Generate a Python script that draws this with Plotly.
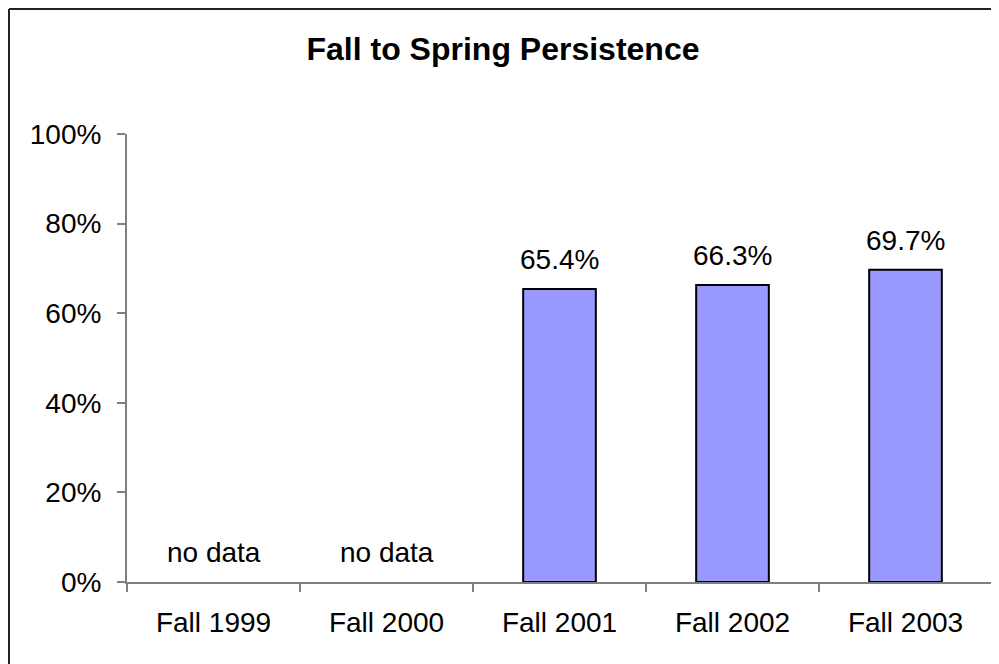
import plotly.graph_objects as go

categories = ["Fall 1999", "Fall 2000", "Fall 2001", "Fall 2002", "Fall 2003"]
persistence = [None, None, 65.4, 66.3, 69.7]
bar_labels = ["no data", "no data", "65.4%", "66.3%", "69.7%"]
y_ticks = [0, 20, 40, 60, 80, 100]
y_tick_labels = ["0%", "20%", "40%", "60%", "80%", "100%"]
title_text = "Fall to Spring Persistence"

W, H = 999, 664
ML, MR, MT, MB = 119, 15, 126, 90
PW, PH = W - ML - MR, H - MT - MB

FONT = "Liberation Sans, Arial, sans-serif"

fig = go.Figure()
fig.add_trace(go.Bar(
    x=categories,
    y=persistence,
    width=0.42,
    marker=dict(color="#9999FF", line=dict(color="#000000", width=2)),
    hoverinfo="skip",
))

for cat, val, lab in zip(categories, persistence, bar_labels):
    fig.add_annotation(
        x=cat, y=val if val is not None else 0,
        text=lab, showarrow=False,
        yanchor="bottom", yshift=12,
        font=dict(family=FONT, size=28, color="#000000"),
    )

# outer chart border: left and top edges only
px_left = (1 - ML) / PW
px_right = (W + 20 - ML) / PW
py_top = 1 + (MT - 1) / PH
py_bottom = -(H + 20 - MT - PH) / PH
fig.add_shape(type="line", xref="paper", yref="paper",
              x0=px_left, x1=px_right, y0=py_top, y1=py_top,
              line=dict(color="#222222", width=2), layer="above")
fig.add_shape(type="line", xref="paper", yref="paper",
              x0=px_left, x1=px_left, y0=py_top, y1=py_bottom,
              line=dict(color="#222222", width=2), layer="above")

fig.update_layout(
    width=W, height=H,
    margin=dict(l=ML, r=MR, t=MT, b=MB),
    paper_bgcolor="white", plot_bgcolor="white",
    showlegend=False,
    title=dict(
        text="<b>" + title_text + "</b>",
        x=495 / W, xanchor="center",
        y=1 - 41 / H, yanchor="middle",
        xref="container", yref="container",
        font=dict(family=FONT, size=32, color="#000000"),
    ),
    font=dict(family=FONT, size=28, color="#000000"),
)

fig.update_xaxes(
    type="category",
    showline=True, linecolor="#808080", linewidth=2,
    ticks="outside", tickson="boundaries", ticklen=8, tickcolor="#808080", tickwidth=2,
    showgrid=False, zeroline=False,
    tickfont=dict(family=FONT, size=28, color="#000000"),
    ticklabelstandoff=14,
)
fig.update_yaxes(
    range=[0, 100],
    tickvals=y_ticks, ticktext=y_tick_labels,
    showline=True, linecolor="#808080", linewidth=2,
    ticks="outside", ticklen=8, tickcolor="#808080", tickwidth=2,
    showgrid=False, zeroline=False,
    tickfont=dict(family=FONT, size=28, color="#000000"),
    ticklabelstandoff=10,
)

fig.write_html("out.html")
